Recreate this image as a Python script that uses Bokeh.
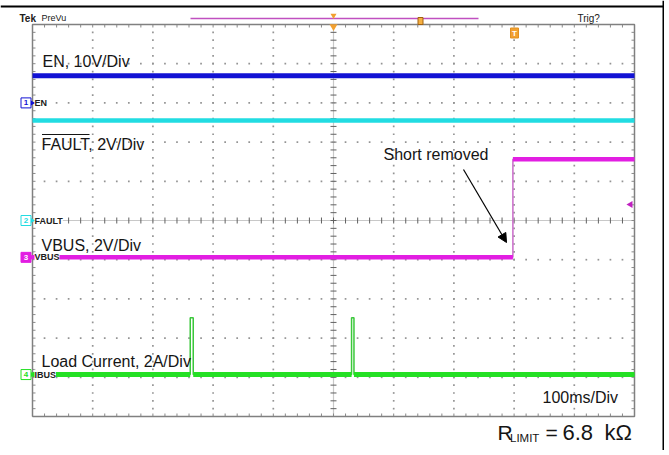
import math
from bokeh.plotting import figure
from bokeh.models import Range1d, Label, Arrow, NormalHead
from bokeh.embed import file_html
from bokeh.resources import INLINE

# ---------------- data ----------------
ms_per_div = 100          # 100ms/Div
n_hdiv = 10
n_vdiv = 10

ch_numbers = ["1", "2", "3", "4"]
ch_names = ["EN", "FAULT", "VBUS", "IBUS"]
ch_titles = ["EN, 10V/Div", "FAULT, 2V/Div", "VBUS, 2V/Div", "Load Current, 2A/Div"]
ch_units_per_div = [10.0, 2.0, 2.0, 2.0]
ch_offset_div = [3.0, 0.0, -0.94, -3.93]

en_t = [0, 1000]
en_val = [6.9, 6.9]                      # V
fault_t = [0, 1000]
fault_val = [5.1, 5.1]                   # V
vbus_t = [0, 798, 798, 1000]
vbus_val = [0.0, 0.0, 5.0, 5.0]          # V
ibus_t = [0, 262, 262, 267, 267, 530, 530, 534, 534, 1000]
ibus_val = [0.0, 0.0, 2.9, 2.9, 0.0, 0.0, 2.9, 2.9, 0.0, 0.0]   # A

annotation_text = "Short removed"
timebase_text = "100ms/Div"
rlimit_parts = ["R", "LIMIT", "=", "6.8", "k\u03a9"]

# ---------------- geometry (screenshot pixels) ----------------
W, H = 664, 450
PAGE = 0
GX0, GX1 = 32, 634
GY0, GY1 = 24, 416
GYM = (GY0 + GY1) / 2
PX_PER_MS = (GX1 - GX0) / (n_hdiv * ms_per_div)
PX_PER_DIV = (GY1 - GY0) / n_vdiv


def X(px):
    return (px - GX0) / PX_PER_MS


def Y(py):
    return (GYM - py) / PX_PER_DIV


def DX(px):
    return px / PX_PER_MS


def DY(px):
    return px / PX_PER_DIV


FONT = "Liberation Sans"
TXT = "#151515"
ch_colors = ["#1212d4", "#22dce2", "#e21ee2", "#24e024"]
ch_marker_filled = [False, False, True, False]

p = figure(width=W, height=H,
           x_range=Range1d(X(PAGE), X(PAGE + W)),
           y_range=Range1d(Y(PAGE + H), Y(PAGE)),
           min_border=0, toolbar_location=None, output_backend="svg",
           title=None, x_axis_location=None, y_axis_location=None,
           outline_line_color=None)
p.xgrid.grid_line_color = None
p.ygrid.grid_line_color = None
p.background_fill_color = "white"
p.border_fill_color = "white"


def label(px, py_mid, text, size, color=TXT, style="normal", align="left", bg=None):
    p.add_layout(Label(x=X(px), y=Y(py_mid), text=text, text_align=align,
                       text_baseline="middle", text_font=FONT,
                       text_font_size=size, text_font_style=style,
                       text_color=color, background_fill_color=bg))


# ---------------- graticule ----------------
tmax = n_hdiv * ms_per_div
vmin, vmax = -n_vdiv / 2, n_vdiv / 2
tmid = tmax / 2
minor_t = [i * ms_per_div / 5 for i in range(n_hdiv * 5 + 1)]
minor_v = [vmin + i * 0.2 for i in range(n_vdiv * 5 + 1)]
major_t = [i * ms_per_div for i in range(1, n_hdiv)]
major_v = [vmin + i for i in range(1, n_vdiv)]

dot_x, dot_y = [], []
for t in major_t:
    if abs(t - tmid) < 1e-6:
        continue
    for v in minor_v[1:-1]:
        dot_x.append(t)
        dot_y.append(v)
for v in major_v:
    if abs(v) < 1e-6:
        continue
    for t in minor_t[1:-1]:
        dot_x.append(t)
        dot_y.append(v)
p.scatter(dot_x, dot_y, marker="square", size=1.7, fill_color="#949494",
          line_color=None)

# center cross
p.segment(x0=[0, tmid], y0=[0, vmin], x1=[tmax, tmid], y1=[0, vmax],
          line_color="#c8c8c8", line_width=1.2)
tk = 3
p.segment(x0=minor_t, y0=[-DY(tk)] * len(minor_t), x1=minor_t,
          y1=[DY(tk)] * len(minor_t), line_color="#606060", line_width=1)
p.segment(x0=[tmid - DX(tk)] * len(minor_v), y0=minor_v,
          x1=[tmid + DX(tk)] * len(minor_v), y1=minor_v,
          line_color="#606060", line_width=1)

# edges with inward ticks
ek = 3
ex0, ey0, ex1, ey1 = [], [], [], []
for t in minor_t:
    ex0 += [t, t]; ex1 += [t, t]
    ey0 += [vmax, vmin]; ey1 += [vmax - DY(ek), vmin + DY(ek)]
for v in minor_v:
    ex0 += [0, tmax]; ex1 += [DX(ek), tmax - DX(ek)]
    ey0 += [v, v]; ey1 += [v, v]
p.segment(x0=ex0, y0=ey0, x1=ex1, y1=ey1, line_color="#8a8a8a", line_width=1)
p.line([0, tmax, tmax, 0, 0], [vmin, vmin, vmax, vmax, vmin],
       line_color="#808080", line_width=1.5)

# ---------------- traces ----------------
def to_div(vals, ch):
    return [ch_offset_div[ch] + v / ch_units_per_div[ch] for v in vals]


def thick_segments(ts, vs):
    x0, y0, x1, y1 = [], [], [], []
    for i in range(len(ts) - 1):
        if vs[i] == vs[i + 1] and ts[i + 1] - ts[i] > 10:
            x0.append(ts[i]); x1.append(ts[i + 1]); y0.append(vs[i]); y1.append(vs[i + 1])
    return x0, y0, x1, y1


p.line(en_t, to_div(en_val, 0), line_color=ch_colors[0], line_width=5)
p.line(fault_t, to_div(fault_val, 1), line_color=ch_colors[1], line_width=4.5)

vb = to_div(vbus_val, 2)
p.line(vbus_t, vb, line_color="#c86ac8", line_width=1.5)
x0, y0, x1, y1 = thick_segments(vbus_t, vb)
p.segment(x0=x0, y0=y0, x1=x1, y1=y1, line_color=ch_colors[2], line_width=4.5)

ib = to_div(ibus_val, 3)
p.line(ibus_t, ib, line_color="#3cc83c", line_width=1.5)
x0, y0, x1, y1 = thick_segments(ibus_t, ib)
p.segment(x0=x0, y0=y0, x1=x1, y1=y1, line_color=ch_colors[3], line_width=5)

# ---------------- channel ground markers ----------------
for i in range(4):
    yc = ch_offset_div[i]
    xc = X(25.5)
    fill = ch_colors[i] if ch_marker_filled[i] else "white"
    p.rect([xc], [yc], width=DX(10), height=DY(10), fill_color=fill,
           line_color=ch_colors[i], line_width=1)
    p.scatter([X(31.8)], [yc], marker="triangle", angle=-math.pi / 2, size=5,
              fill_color=ch_colors[i], line_color=None)
    p.add_layout(Label(x=xc, y=yc, text=ch_numbers[i], text_align="center",
                       text_baseline="middle", text_font=FONT, text_font_size="8px",
                       text_font_style="bold",
                       text_color="white" if ch_marker_filled[i] else ch_colors[i]))
    p.add_layout(Label(x=X(34), y=yc, text=ch_names[i], text_baseline="middle",
                       text_font=FONT, text_font_size="9px", text_font_style="bold",
                       text_color="#202020", background_fill_color="white"))

# ---------------- big channel titles ----------------
title_px = [(42, 60.5), (41, 143.5), (41, 244.7), (41, 360.8)]
for (px, py), txt in zip(title_px, ch_titles):
    label(px, py, txt, "16px")
# overline on FAULT
p.line([X(41.5), X(89)], [Y(134), Y(134)], line_color=TXT, line_width=1.2)

# annotation + arrow
label(383, 154, annotation_text, "16px")
p.add_layout(Arrow(end=NormalHead(size=9, fill_color="black", line_color="black",
                                  line_width=1),
                   x_start=X(463), y_start=Y(169), x_end=X(506), y_end=Y(242),
                   line_color="black", line_width=1.2))

label(542, 396.5, timebase_text, "16px")

# R_LIMIT = 6.8 kOhm
r_pos = [(497, 432, "21px"), (509.5, 437.5, "11.5px"), (545, 432, "21px"),
         (562, 432, "22px"), (604, 432, "22px")]
for (px, py, fs), txt in zip(r_pos, rlimit_parts):
    label(px, py, txt, fs)

# ---------------- top status bar decorations ----------------
label(19, 17.5, "Tek", "10px", color="#202020", style="bold")
label(41, 17.5, "PreVu", "9px", color="#202020")
label(577, 17.5, "Trig?", "10px", color="#202020")
p.line([X(190), X(478)], [Y(18), Y(18)], line_color="#c050c0", line_width=1.5)
p.scatter([X(333)], [Y(15)], marker="inverted_triangle", size=6,
          fill_color="#f2a030", line_color=None)
p.scatter([X(333)], [Y(26)], marker="inverted_triangle", size=8,
          fill_color="#f2a030", line_color=None)
p.rect([X(420)], [Y(20.5)], width=DX(5), height=DY(7), fill_color="#f6b040",
       line_color="#a06010", line_width=1)
p.rect([X(514)], [Y(32.5)], width=DX(8), height=DY(10), fill_color="#f2a030",
       line_color="#e09020", line_width=1)
label(514, 32.5, "T", "8px", color="white", style="bold", align="center")
p.scatter([X(630)], [Y(204)], marker="triangle", angle=math.pi / 2, size=7,
          fill_color="#c020c0", line_color=None)

# outer frame (top and right)
p.line([X(PAGE), X(664)], [Y(6), Y(6)], line_color="black", line_width=2)
p.line([X(663), X(663)], [Y(PAGE), Y(PAGE + H)], line_color="black", line_width=2)

open("out.html", "w").write(file_html(p, INLINE))
